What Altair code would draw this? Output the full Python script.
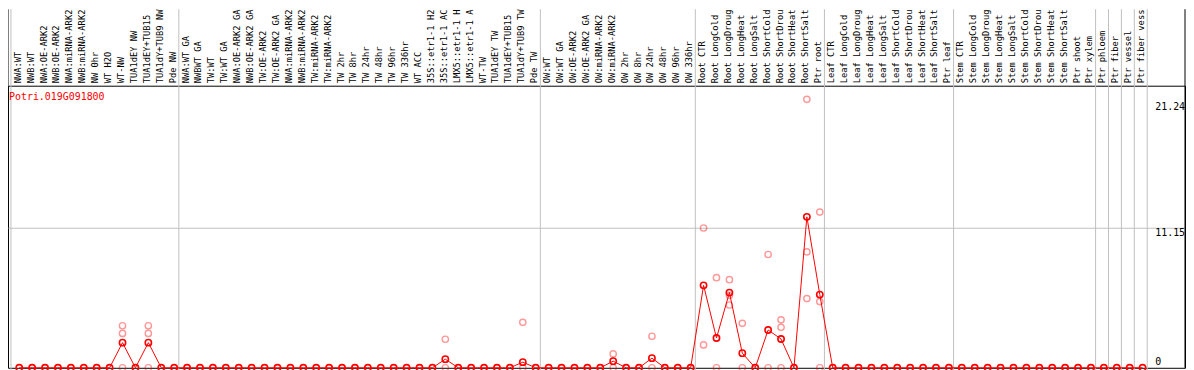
import altair as alt
import pandas as pd

gene = "Potri.019G091800"

# category labels as they are shown (truncated to 14 characters in the reference)
categories = [
    "NWA:WT", "NWB:WT", "NWA:OE-ARK2", "NWB:OE-ARK2", "NWA:miRNA-ARK2", "NWB:miRNA-ARK2",
    "NW 0hr", "WT H2O", "WT-NW", "TUA1dEY NW", "TUA1dEY+TUB15", "TUA1dY+TUB9 NW", "Pde NW",
    "NWA:WT GA", "NWBWT GA", "TW:WT", "TW:WT GA", "NWA:OE-ARK2 GA", "NWB:OE-ARK2 GA",
    "TW:OE-ARK2", "TW:OE-ARK2 GA", "NWA:miRNA-ARK2", "NWB:miRNA-ARK2", "TW:miRNA-ARK2",
    "TW:miRNA-ARK2", "TW 2hr", "TW 8hr", "TW 24hr", "TW 48hr", "TW 96hr", "TW 336hr",
    "WT ACC", "35S::etr1-1 H2", "35S::etr1-1 AC", "LMX5::etr1-1 H", "LMX5::etr1-1 A",
    "WT-TW", "TUA1dEY TW", "TUA1dEY+TUB15", "TUA1dY+TUB9 TW", "Pde TW",
    "OW:WT", "OW:WT GA", "OW:OE-ARK2", "OW:OE-ARK2 GA", "OW:miRNA-ARK2", "OW:miRNA-ARK2",
    "OW 2hr", "OW 8hr", "OW 24hr", "OW 48hr", "OW 96hr", "OW 336hr",
    "Root CTR", "Root LongCold", "Root LongDroug", "Root LongHeat", "Root LongSalt",
    "Root ShortCold", "Root ShortDrou", "Root ShortHeat", "Root ShortSalt", "Ptr root",
    "Leaf CTR", "Leaf LongCold", "Leaf LongDroug", "Leaf LongHeat", "Leaf LongSalt",
    "Leaf ShortCold", "Leaf ShortDrou", "Leaf ShortHeat", "Leaf ShortSalt", "Ptr leaf",
    "Stem CTR", "Stem LongCold", "Stem LongDroug", "Stem LongHeat", "Stem LongSalt",
    "Stem ShortCold", "Stem ShortDrou", "Stem ShortHeat", "Stem ShortSalt",
    "Ptr shoot", "Ptr xylem", "Ptr phloem", "Ptr fiber", "Ptr vessel", "Ptr fiber vess",
]

means = [
    0, 0, 0, 0, 0, 0, 0, 0, 2.01, 0, 2.01, 0, 0,
    0, 0, 0, 0, 0, 0, 0, 0, 0, 0, 0, 0, 0, 0, 0, 0, 0, 0, 0, 0, 0.69, 0, 0, 0, 0, 0, 0.45, 0,
    0, 0, 0, 0, 0, 0.53, 0, 0, 0.77, 0, 0, 0,
    6.59, 2.38, 6.01, 1.17, 0, 3.02, 2.30, 0, 12.06, 5.85,
    0, 0, 0, 0, 0, 0, 0, 0, 0, 0,
    0, 0, 0, 0, 0, 0, 0, 0, 0, 0, 0,
    0, 0, 0, 0,
]

rep_index = [8, 8, 8, 10, 10, 10, 33, 33, 39, 39, 46, 46, 49, 49,
             53, 53, 54, 54, 55, 55, 55, 56, 56, 58, 58, 59, 59, 59,
             61, 61, 61, 62, 62, 62]
rep_values = [3.36, 2.75, 0, 3.36, 2.75, 0, 2.28, 0, 3.63, 0, 1.11, 0, 2.52, 0,
              11.17, 1.83, 7.20, 0, 7.04, 5.79, 5.02, 3.55, 0, 9.05, 0, 3.83, 3.23, 0,
              21.45, 9.26, 5.53, 12.44, 5.29, 0]

group_starts = [0, 13, 41, 53, 63, 73, 84, 85, 86, 87, 88]
grid_values = [11.15]
tick_top = [11.15, 21.24]
tick_bottom = [0]

W, H = 1185, 284
TOP = 77
FONT = "DejaVu Sans Mono"
GRAY = "#c0c0c0"
RED = "#ff0000"

x_scale = alt.Scale(domain=[-0.869, 90.285], nice=False, zero=False)
y_scale = alt.Scale(domain=[0, 22.54], nice=False, zero=True)

df_means = pd.DataFrame({"i": list(range(len(categories))), "cat": categories, "v": means})
df_reps = pd.DataFrame({"i": rep_index, "v": rep_values})
df_sep = pd.DataFrame({"b": [g - 0.64 for g in group_starts]})
df_grid = pd.DataFrame({"v": grid_values})
df_one = pd.DataFrame({"k": [0]})

sep = alt.Chart(df_sep).mark_rule(color=GRAY, strokeWidth=1).encode(
    x=alt.X("b:Q", scale=x_scale, axis=None),
    y=alt.value(-TOP),
    y2=alt.value(H + 5),
)

grid = alt.Chart(df_grid).mark_rule(color=GRAY, strokeWidth=1).encode(
    y=alt.Y("v:Q", scale=y_scale, axis=None),
    x=alt.value(0),
    x2=alt.value(W),
)

border_l = alt.Chart(df_one).mark_rule(color="black", strokeWidth=1).encode(
    x=alt.value(0), y=alt.value(-TOP), y2=alt.value(H)
)
border_r = alt.Chart(df_one).mark_rule(color="black", strokeWidth=1).encode(
    x=alt.value(W), y=alt.value(-TOP), y2=alt.value(H)
)

reps = alt.Chart(df_reps).mark_point(
    shape="circle", filled=False, color=RED, opacity=0.4, size=40, strokeWidth=1.4
).encode(
    x=alt.X("i:Q", scale=x_scale, axis=None),
    y=alt.Y("v:Q", scale=y_scale, axis=None),
)

line = alt.Chart(df_means).mark_line(color=RED, strokeWidth=1).encode(
    x=alt.X("i:Q", scale=x_scale, axis=None),
    y=alt.Y("v:Q", scale=y_scale, axis=None),
    order="i:Q",
)

pts = alt.Chart(df_means).mark_point(
    shape="circle", filled=False, color=RED, size=40, strokeWidth=1.6, opacity=1
).encode(
    x=alt.X("i:Q", scale=x_scale, axis=None),
    y=alt.Y("v:Q", scale=y_scale, axis=None),
)

labels = alt.Chart(df_means).mark_text(
    angle=270, align="left", baseline="middle", font=FONT, fontSize=8.8,
    color="black", dy=-1.5
).encode(
    x=alt.X("i:Q", scale=x_scale, axis=None),
    y=alt.value(-2.5),
    text="cat:N",
)

ylab_top = alt.Chart(pd.DataFrame({"v": tick_top})).mark_text(
    align="left", baseline="top", font=FONT, fontSize=10, color="black"
).encode(
    x=alt.value(1155),
    y=alt.Y("v:Q", scale=y_scale, axis=None),
    text=alt.Text("v:Q", format=".2f"),
)

ylab_bot = alt.Chart(pd.DataFrame({"v": tick_bottom})).mark_text(
    align="left", baseline="bottom", font=FONT, fontSize=10, color="black", dy=-1
).encode(
    x=alt.value(1155),
    y=alt.Y("v:Q", scale=y_scale, axis=None),
    text=alt.Text("v:Q", format="d"),
)

title = alt.Chart(pd.DataFrame({"t": [gene]})).mark_text(
    align="left", baseline="middle", font=FONT, fontSize=10, color=RED
).encode(
    x=alt.value(1),
    y=alt.value(11),
    text="t:N",
)

chart = alt.layer(
    sep, grid, border_l, border_r, reps, line, pts, labels, ylab_top, ylab_bot, title
).properties(
    width=W,
    height=H,
    autosize="none",
    padding={"left": 0, "top": TOP, "right": 1, "bottom": 3},
    background="white",
).configure_view(stroke="black", strokeWidth=1)

chart.save("out.html", embed_options={"renderer": "svg", "actions": False})
